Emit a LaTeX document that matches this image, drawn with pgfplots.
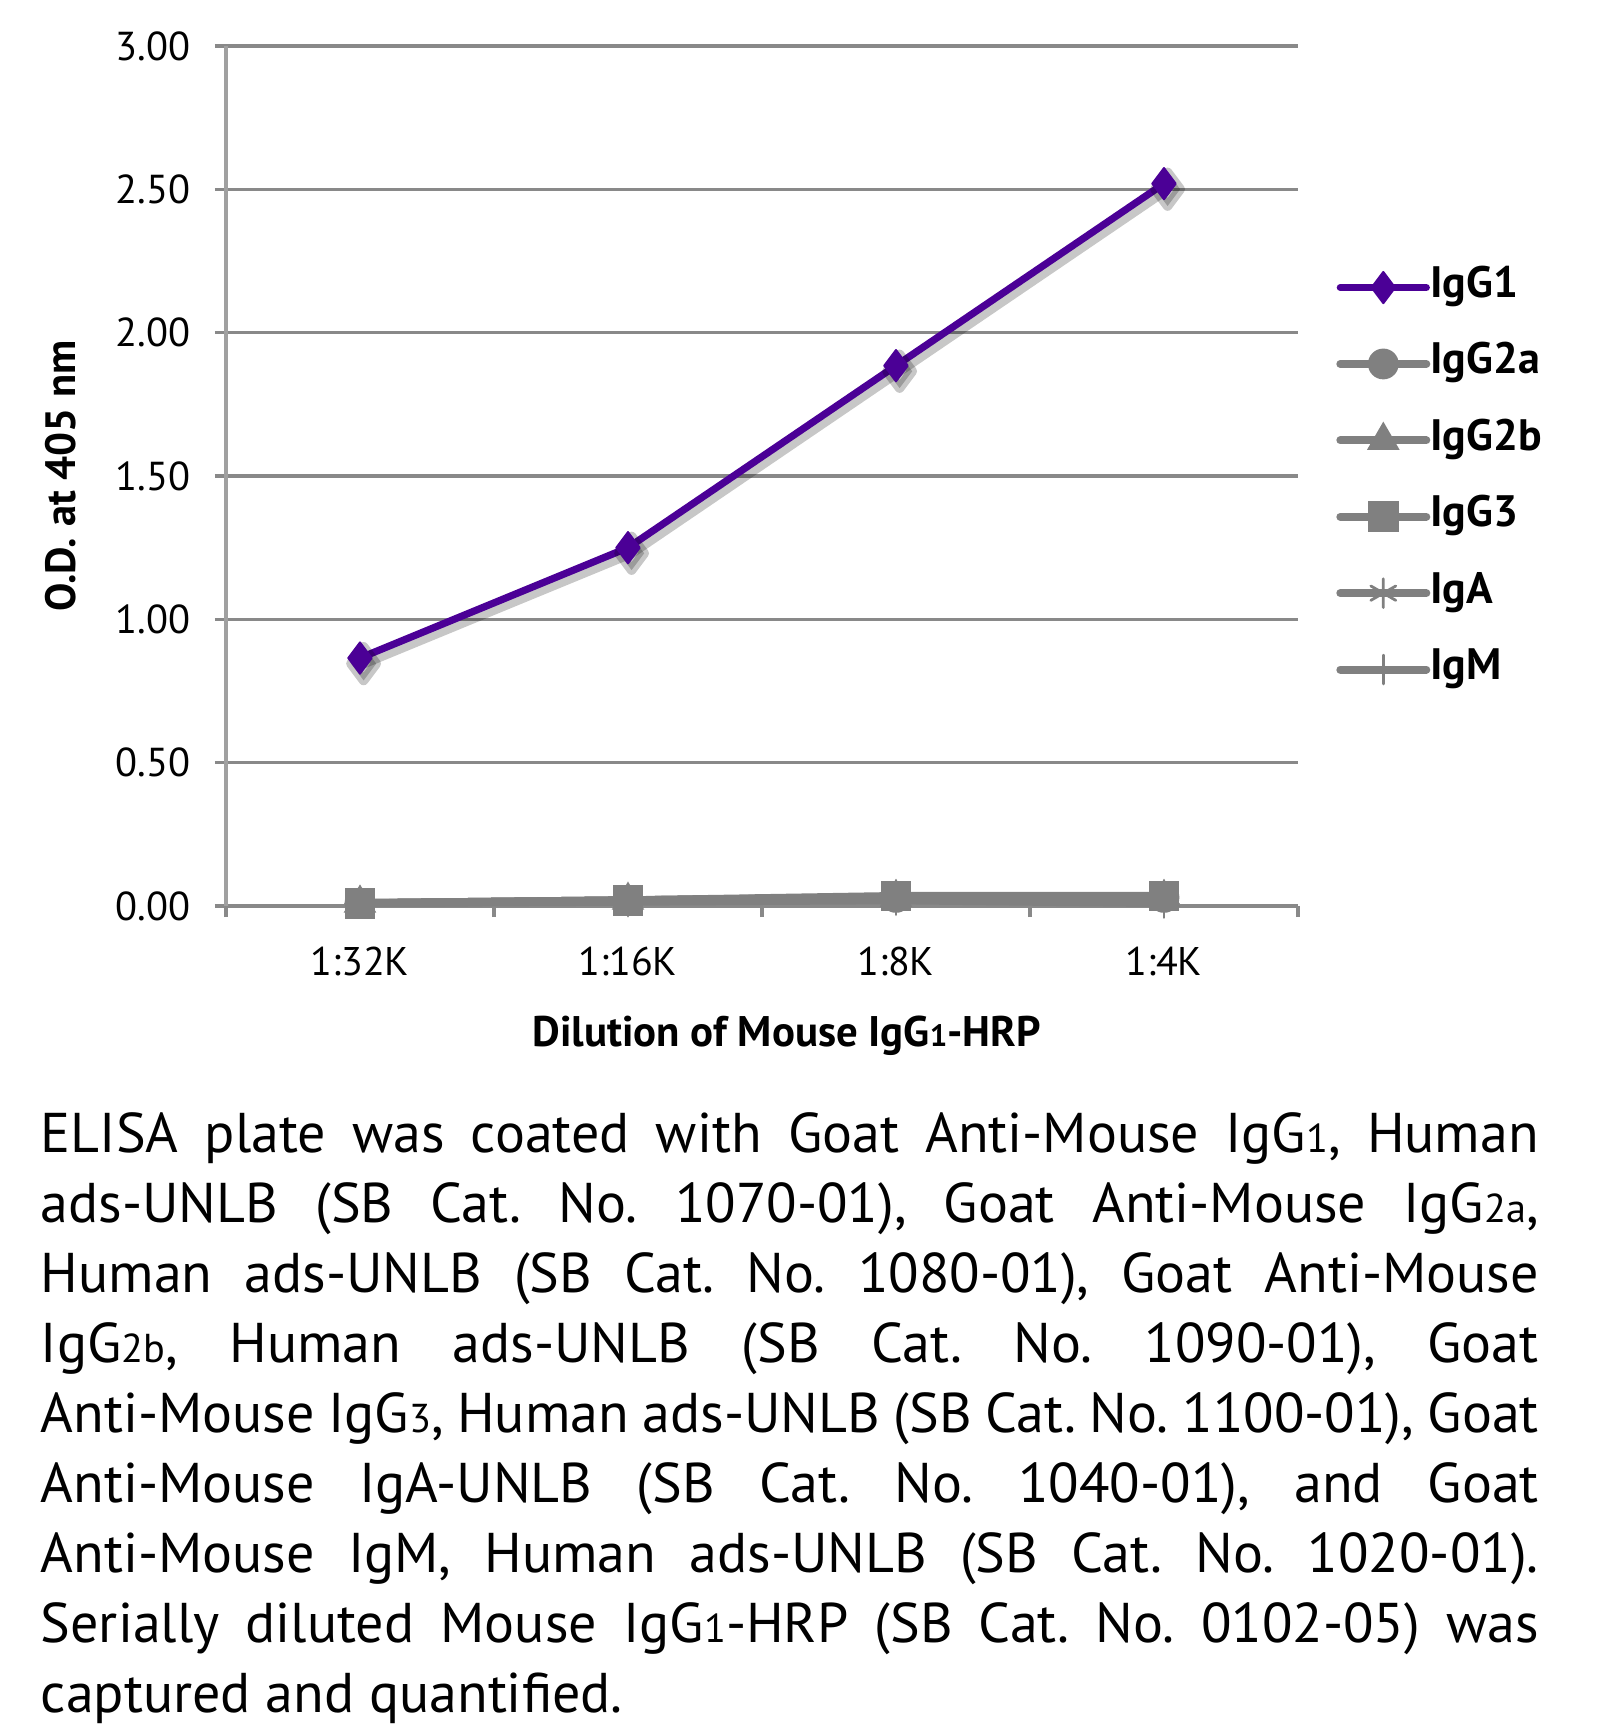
\documentclass[border=0pt]{standalone}
\usepackage{pgfplots}
\pgfplotsset{compat=1.18}
\usepackage{fontspec}
\setmainfont{PT Sans}
\definecolor{igpurple}{RGB}{75,0,150}
\definecolor{sergray}{RGB}{128,128,128}
\definecolor{gridgray}{RGB}{137,137,137}
\definecolor{axgray}{RGB}{160,160,160}
\newcommand\sub[1]{\scalebox{0.72}{#1}}
\pgfplotstableread{
x igga iggb iggc igg3 iga igm
0.5 0.865 0.01 0.01 0.01 0.01 0.01
1.5 1.25 0.02 0.02 0.02 0.02 0.015
2.5 1.885 0.03 0.03 0.035 0.03 0.02
3.5 2.52 0.03 0.03 0.035 0.03 0.01
}\datatable
\begin{document}
\begin{tikzpicture}
\useasboundingbox (0,0) rectangle (402pt,-432pt);
\begin{axis}[
  at={(56.5pt,-226.5pt)}, anchor=south west,
  scale only axis, width=268pt, height=215pt,
  xmin=0, xmax=4, ymin=0, ymax=3,
  axis lines=left, axis line style={-},
  x axis line style={draw=gridgray, line width=0.9pt},
  y axis line style={draw=axgray, line width=0.9pt},
  /pgf/number format/assume math mode=true,
  ytick={0,0.5,1,1.5,2,2.5,3},
  yticklabel style={/pgf/number format/fixed, /pgf/number format/fixed zerofill, /pgf/number format/precision=2, font=\fontsize{10.1}{11}\selectfont, xshift=-2.5pt},
  xtick={0,1,2,3,4},
  xticklabels={1:32K,1:16K,1:8K,1:4K},
  x tick label as interval,
  xticklabel style={font=\fontsize{10}{11}\selectfont, yshift=-4pt},
  tick align=outside, major tick length=2.8pt,
  tick style={draw=gridgray, line width=0.9pt},
  ymajorgrids, major grid style={draw=gridgray, line width=0.9pt},
  xlabel={Dilution of Mouse IgG\sub{1}-HRP},
  xlabel style={font=\bfseries\fontsize{10.7}{12}\selectfont, at={(axis description cs:0.523,-0.151)}, anchor=center},
  ylabel={O.D. at 405 nm},
  ylabel style={font=\bfseries\fontsize{10.6}{12}\selectfont, at={(axis description cs:-0.154,0.5)}, anchor=center},
  legend style={at={(axis description cs:1.035,0.741)}, anchor=north west, draw=none, fill=none,
    font=\bfseries\fontsize{11}{12}\selectfont, row sep=10.1pt, column sep=0pt, inner sep=0pt,
    nodes={inner sep=0pt, text height=7pt, text depth=2pt}},
  legend cell align=left,
  legend image code/.code={\draw[mark repeat=2,mark phase=2,#1] plot coordinates {(0pt,0pt) (10.75pt,0pt) (21.5pt,0pt)};},
  shadow/.style={black, opacity=0.22, line width=2.4pt, line join=round, mark size=4.2pt, mark options={solid}, xshift=0.9pt, yshift=-1.4pt, forget plot},
]
% soft drop shadow
\addplot[shadow, mark=diamond*] table[x=x, y=igga] {\datatable};
% series
\addplot[igpurple, line width=1.8pt, line cap=round, line join=round, mark=diamond*, mark size=3.9pt, mark options={solid, line width=0.5pt}]
  table[x=x, y=igga] {\datatable};
\addlegendentry{IgG1}
\addplot[sergray, line width=2pt, line cap=round, mark=*, mark size=3.6pt, mark options={solid, line width=0.5pt}]
  table[x=x, y=iggb] {\datatable};
\addlegendentry{IgG2a}
\addplot[sergray, line width=2pt, line cap=round, mark=triangle*, mark size=4.2pt, mark options={solid, line width=0.5pt}]
  table[x=x, y=iggc] {\datatable};
\addlegendentry{IgG2b}
\addplot[sergray, line width=2pt, line cap=round, mark=square*, mark size=3.6pt, mark options={solid, line width=0.5pt}]
  table[x=x, y=igg3] {\datatable};
\addlegendentry{IgG3}
\addplot[sergray, line width=2pt, line cap=round, mark=asterisk, mark size=3.6pt, mark options={solid, line width=0.7pt}]
  table[x=x, y=iga] {\datatable};
\addlegendentry{IgA}
\addplot[sergray, line width=2pt, line cap=round, mark=+, mark size=3.6pt, mark options={solid, line width=0.7pt}]
  table[x=x, y=igm] {\datatable};
\addlegendentry{IgM}
\end{axis}
\node[anchor=north west, inner sep=0pt, text width=374.5pt, align=justify,
      font=\fontsize{14}{17.5}\selectfont] at (10pt,-278pt)
{\frenchspacing\hyphenpenalty=10000\exhyphenpenalty=10000
ELISA plate was coated with Goat Anti-Mouse IgG\sub{1}, Human\linebreak
ads-UNLB (SB Cat. No. 1070-01), Goat Anti-Mouse IgG\sub{2a},\linebreak
Human ads-UNLB (SB Cat. No. 1080-01), Goat Anti-Mouse\linebreak
IgG\sub{2b}, Human ads-UNLB (SB Cat. No. 1090-01), Goat\linebreak
Anti-Mouse IgG\sub{3}, Human ads-UNLB (SB Cat. No. 1100-01), Goat\linebreak
Anti-Mouse IgA-UNLB (SB Cat. No. 1040-01), and Goat\linebreak
Anti-Mouse IgM, Human ads-UNLB (SB Cat. No. 1020-01).\linebreak
Serially diluted Mouse IgG\sub{1}-HRP (SB Cat. No. 0102-05) was\linebreak
captured and quantified.};
\end{tikzpicture}
\end{document}
